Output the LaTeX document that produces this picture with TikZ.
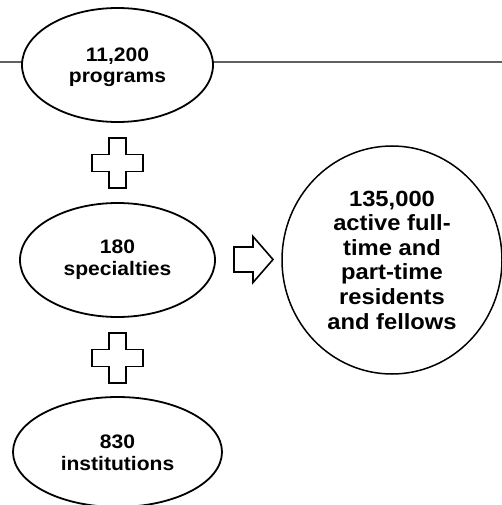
\documentclass[tikz,border=0pt]{standalone}
\usepackage{fontspec}
\setmainfont[FakeStretch=1.08]{Liberation Sans}
\usetikzlibrary{shapes.geometric}
\tikzset{
  oval/.style={ellipse, draw=black, line width=1.8pt, fill=white, inner sep=0pt},
  ovaltext/.style={inner sep=0pt, align=center, font=\bfseries\fontsize{19.5}{21.5}\selectfont},
  bigcirc/.style={ellipse, draw=black, line width=1.5pt, fill=white, inner sep=0pt,
    align=center, font=\bfseries\fontsize{22}{24.6}\selectfont},
  sym/.style={draw=black, line width=1.6pt, fill=white, line join=miter},
  rule/.style={draw=black!62, line width=1.1pt}
}
\begin{document}
\begin{tikzpicture}[x=1pt,y=-1pt]
\useasboundingbox (0,0) rectangle (502,505);
\coordinate (l0) at (0,62);
\coordinate (l1) at (502,62);
\draw[rule] (l0) -- (l1);
\node[oval, minimum width=191pt, minimum height=114pt] (prog) at (117.5,65) {};
\node[ovaltext] (progt) at (117.5,67.5) {11,200\\programs};
\node[oval, minimum width=195pt, minimum height=114pt] (spec) at (117.5,260) {};
\node[ovaltext] (spect) at (117.5,259.5) {180\\specialties};
\node[oval, minimum width=209pt, minimum height=110pt] (inst) at (117.5,452) {};
\node[ovaltext] (instt) at (117.5,453) {830\\institutions};
\node[bigcirc, minimum width=220pt, minimum height=228pt] (res) at (392,260)
  {135,000\\active full-\\time and\\part-time\\residents\\and fellows};
% plus signs
\foreach \cy in {163,358} {
  \draw[sym] (117.5-8.5,\cy-25) -- (117.5+8.5,\cy-25) -- (117.5+8.5,\cy-8.5)
    -- (117.5+25.5,\cy-8.5) -- (117.5+25.5,\cy+8.5) -- (117.5+8.5,\cy+8.5)
    -- (117.5+8.5,\cy+25) -- (117.5-8.5,\cy+25) -- (117.5-8.5,\cy+8.5)
    -- (117.5-25.5,\cy+8.5) -- (117.5-25.5,\cy-8.5) -- (117.5-8.5,\cy-8.5) -- cycle;
}
% arrow
\draw[sym] (234,247) -- (253,247) -- (253,236.5) -- (273,259.5) -- (253,282.5)
  -- (253,272) -- (234,272) -- cycle;
\end{tikzpicture}
\end{document}
